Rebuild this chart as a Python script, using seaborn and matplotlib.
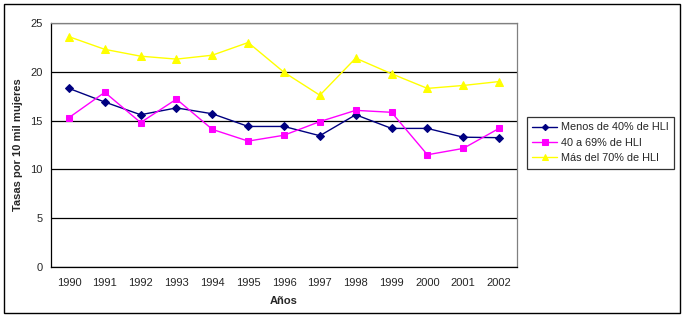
import matplotlib
matplotlib.use("Agg")
import matplotlib.pyplot as plt
import seaborn as sns
import pandas as pd
import numpy as np
from matplotlib.patches import Rectangle

years = ["1990", "1991", "1992", "1993", "1994", "1995", "1996", "1997",
         "1998", "1999", "2000", "2001", "2002"]
menos40 = [18.3, 16.9, 15.6, 16.3, 15.7, 14.4, 14.4, 13.45, 15.6, 14.2, 14.2, 13.3, 13.25]
de40a69 = [15.3, 17.9, 14.8, 17.2, 14.1, 12.9, 13.5, 14.9, 16.05, 15.85, 11.5, 12.15, 14.2]
mas70 = [23.6, 22.3, 21.6, 21.3, 21.7, 23.0, 19.95, 17.6, 21.4, 19.8, 18.3, 18.6, 19.0]
series_names = ["Menos de 40% de HLI", "40 a 69% de HLI", "Más del 70% de HLI"]
colors = ["#000080", "#FF00FF", "#FFFF00"]
markers = ["D", "s", "^"]
msizes = [4, 5, 5.5]

sns.set_style("white")
plt.rcParams["font.family"] = ["Liberation Sans", "DejaVu Sans"]

rows = []
for name, vals in zip(series_names, [menos40, de40a69, mas70]):
    for i, (y, v) in enumerate(zip(years, vals)):
        rows.append({"idx": i, "Año": y, "Serie": name, "Tasa": v})
df = pd.DataFrame(rows)

fig = plt.figure(figsize=(6.84, 3.18), dpi=100)
ax = fig.add_axes([51/684, 1-267/318, (517-51)/684, (267-23)/318])

for name, c, m, ms in zip(series_names, colors, markers, msizes):
    sub = df[df["Serie"] == name]
    sns.lineplot(data=sub, x="idx", y="Tasa", ax=ax, color=c, marker=m,
                 markersize=ms, markeredgecolor=c, linewidth=1.0, label=name,
                 zorder=3)

ax.set_xlim(-0.5, len(years) - 0.5)
ax.set_ylim(0, 25)
ax.set_yticks([0, 5, 10, 15, 20, 25])
ax.set_xticks(range(len(years)))
ax.set_xticklabels(years, fontsize=8)
ax.set_xticks(np.arange(-0.5, len(years), 1.0), minor=True)
ax.tick_params(axis="x", which="major", length=0, pad=8)
ax.tick_params(axis="x", which="minor", length=4, width=0.8, color="black", direction="out")
ax.tick_params(axis="y", length=4, width=0.8, color="black", direction="out", labelsize=8, pad=2)
ax.yaxis.grid(True, color="black", linewidth=0.9)
ax.set_axisbelow(True)
for s in ["left", "bottom"]:
    ax.spines[s].set_color("black")
    ax.spines[s].set_linewidth(0.9)
for s in ["top", "right"]:
    ax.spines[s].set_color("#808080")
    ax.spines[s].set_linewidth(0.9)

ax.set_xlabel("Años", fontsize=8, fontweight="bold", labelpad=6)
ax.set_ylabel("Tasas por 10 mil mujeres", fontsize=8, fontweight="bold", labelpad=5)

leg = ax.legend(loc="upper left", bbox_to_anchor=(527/684, 1-117/318),
                bbox_transform=fig.transFigure, fontsize=7.8, frameon=True,
                fancybox=False, edgecolor="black", borderpad=0.5,
                handlelength=2.3, labelspacing=0.5, handletextpad=0.3,
                borderaxespad=0, markerscale=0.8)
leg.get_frame().set_linewidth(0.9)

fig.patches.append(Rectangle((4/684, 5/318), 676/684, 309/318, transform=fig.transFigure,
                             fill=False, edgecolor="black", linewidth=1.0))

fig.savefig("out.png", dpi=100)
